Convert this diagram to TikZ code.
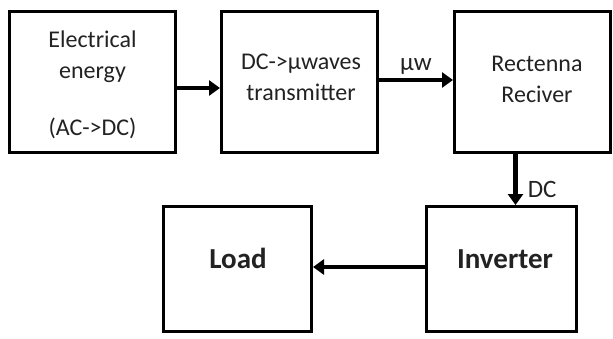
\documentclass[tikz,border=0pt]{standalone}
\usepackage{fontspec}
\setmainfont{Carlito}
\usepackage{tikz}
\usetikzlibrary{arrows.meta, positioning, calc}
\definecolor{txtGray}{HTML}{222222}

\begin{document}
\begin{tikzpicture}[x=1pt, y=-1pt, >={Triangle[length=11pt, width=15pt]},
    block/.style={draw, line width=3pt, inner sep=0pt},
    txt/.style={align=center, text=txtGray, font=\fontsize{24}{31}\selectfont},
    bigtxt/.style={text=txtGray, font=\fontsize{29}{31}\selectfont\bfseries},
    flow/.style={->, line width=4.5pt}]
  \useasboundingbox (0,0) rectangle (613,338);
  % top row
  \node[block, minimum width=166pt, minimum height=141pt] (elec) at (92.5,82) {};
  \node[block, minimum width=156pt, minimum height=141pt] (tx) at (299.5,82) {};
  \node[block, minimum width=156pt, minimum height=141pt] (rect) at (532.5,82) {};
  \node[txt] (elecT) at (92.5,85) {Electrical\\energy\\[26pt](AC->DC)};
  \node[txt] (txT) at (301,77) {DC->µwaves\\transmitter};
  \node[txt] (rectT) at (537,79) {Rectenna\\Reciver};
  % bottom row
  \node[block, minimum width=148pt, minimum height=125pt] (load) at (237.5,269) {};
  \node[block, minimum width=150pt, minimum height=125pt] (inv) at (501.5,269) {};
  \node[bigtxt] (loadT) at (238,258) {Load};
  \node[bigtxt] (invT) at (505,259) {Inverter};
  % connectors
  \draw[flow] ([yshift=-6pt]elec.east) -- ([yshift=-6pt]tx.west);
  \draw[flow] ([yshift=2pt]tx.east) -- node[above, txt, inner sep=3pt, font=\fontsize{25}{31}\selectfont] (mw) {µw} ([yshift=2pt]rect.west);
  \draw[flow] ([xshift=-17pt]rect.south) -- node[right, txt, pos=0.7, inner sep=10pt, font=\fontsize{25}{31}\selectfont] (dc) {DC}
        ([xshift=-17pt]rect.south |- inv.north);
  \draw[flow] ([yshift=2pt]inv.west) -- ([yshift=2pt]load.east);
\end{tikzpicture}
\end{document}
